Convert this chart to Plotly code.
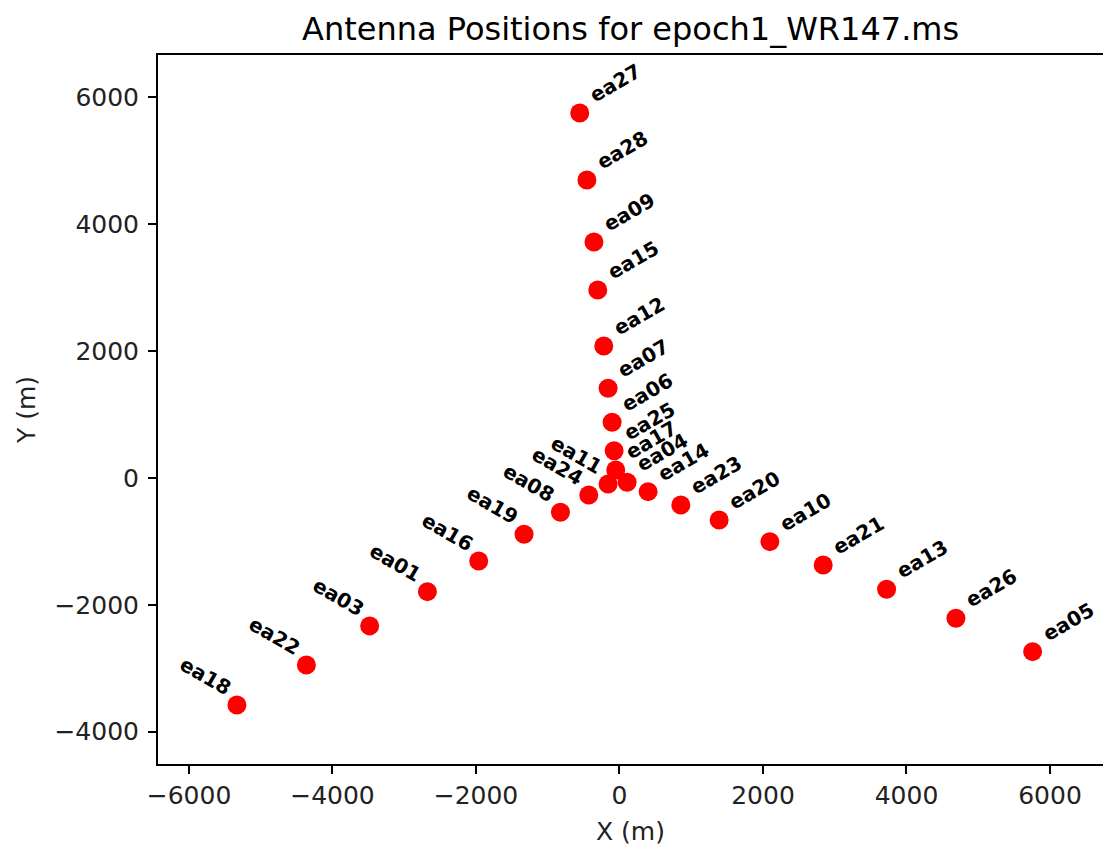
import plotly.graph_objects as go

antennas = ["ea27", "ea28", "ea09", "ea15", "ea12", "ea07", "ea06", "ea25", "ea17",
            "ea11", "ea04", "ea24", "ea14", "ea08", "ea23", "ea19", "ea20", "ea16",
            "ea10", "ea01", "ea21", "ea03", "ea13", "ea22", "ea26", "ea18", "ea05"]
x_m = [-554, -454, -356, -303, -219, -159, -103, -75, -52,
       -159, 106, -428, 399, -823, 855, -1330, 1389, -1962,
       2096, -2677, 2839, -3482, 3723, -4364, 4689, -5332, 5758]
y_m = [5752, 4697, 3719, 2963, 2080, 1414, 878, 430, 126,
       -95, -68, -268, -216, -541, -426, -887, -662, -1308,
       -1004, -1792, -1371, -2332, -1754, -2947, -2211, -3578, -2738]

x_ticks = [-6000, -4000, -2000, 0, 2000, 4000, 6000]
y_ticks = [-4000, -2000, 0, 2000, 4000, 6000]

FONT = "DejaVu Sans"

fig = go.Figure()
fig.add_trace(go.Scatter(
    x=x_m, y=y_m, mode="markers",
    marker=dict(color="red", size=19, line=dict(width=0)),
    hoverinfo="text", text=antennas, showlegend=False,
))

annotations = []
for name, xv, yv in zip(antennas, x_m, y_m):
    left = xv < 0 and yv < 0
    annotations.append(dict(
        x=xv, y=yv, xref="x", yref="y", text="<b>" + name + "</b>",
        showarrow=False, textangle=30 if left else -30,
        xanchor="right" if left else "left", yanchor="bottom",
        xshift=1 if left else 3, yshift=2 if left else 3,
        font=dict(family=FONT, size=20, color="black"),
    ))

annotations.append(dict(
    x=0.5, y=1, xref="paper", yref="paper", text="Antenna Positions for epoch1_WR147.ms",
    showarrow=False, xanchor="center", yanchor="bottom", yshift=5,
    font=dict(family=FONT, size=32, color="black"),
))

fig.update_layout(
    width=1103, height=846,
    margin=dict(l=158, r=0, t=55, b=82),
    paper_bgcolor="white", plot_bgcolor="white",
    font=dict(family=FONT, size=24, color="black"),
    annotations=annotations,
    xaxis=dict(
        range=[-6432, 6739], tickvals=x_ticks, showgrid=False, zeroline=False,
        showline=True, linecolor="black", linewidth=2, mirror=True,
        ticks="outside", ticklen=8, tickwidth=2, tickcolor="black",
        tickfont=dict(family=FONT, size=25, color="#222"),
        title=dict(text="X (m)", font=dict(family=FONT, size=25, color="#222"), standoff=14),
    ),
    yaxis=dict(
        range=[-4509, 6667], tickvals=y_ticks, showgrid=False, zeroline=False,
        showline=True, linecolor="black", linewidth=2, mirror=False,
        ticks="outside", ticklen=8, tickwidth=2, tickcolor="black",
        ticklabelstandoff=4,
        tickfont=dict(family=FONT, size=25, color="#222"),
        title=dict(text="Y (m)", font=dict(family=FONT, size=25, color="#222"), standoff=12),
    ),
)

fig.write_html("out.html")
